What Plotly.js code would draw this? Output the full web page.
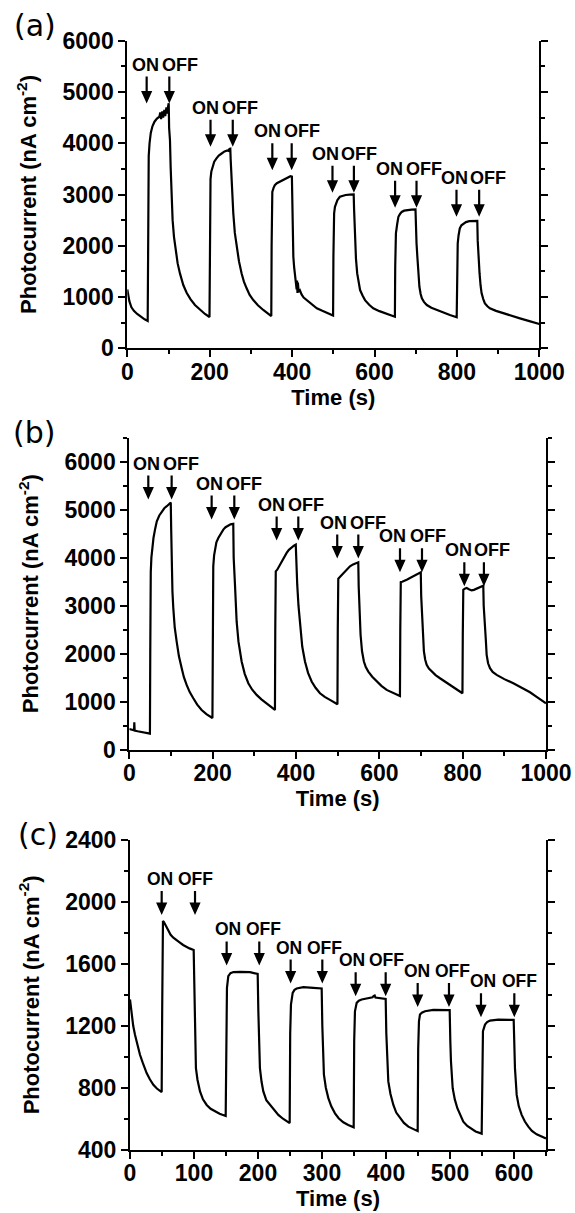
<!DOCTYPE html>
<html>
<head>
<meta charset="utf-8">
<script src="https://cdn.plot.ly/plotly-3.0.1.min.js"></script>
<style>
  html, body { margin: 0; padding: 0; background: #fff; }
  #chart { width: 575px; height: 1213px; }
</style>
</head>
<body>
<div id="chart"></div>
<script>
// ---- Panel (a): photocurrent vs time ----
const timeA = [0, 2, 5, 10, 16, 24, 33, 42, 49.5,
  50.3, 50.8, 52, 54, 57, 61, 66, 72, 78, 80, 82, 85, 87, 90, 92, 95, 97, 99, 100.5,
  101.5, 103.6, 105.2, 107.6, 110, 113.3, 117.3, 122.2, 127.8, 135.9, 144, 153.7, 164.2, 176.4, 188.5, 199.5,
  200.3, 200.8, 202, 204, 207, 211, 216, 222, 229, 236, 243, 246, 248, 250,
  250.8, 253.2, 255, 257.3, 261, 265.4, 271, 277.5, 283, 289.6, 297, 305.8, 317, 330, 340, 349.5,
  350.3, 350.8, 352, 355, 358, 363, 370, 378, 387, 393, 396, 399.5,
  400.5, 401.5, 403, 405, 407, 409, 410, 411, 412, 413, 414, 416, 419, 423, 428, 435, 445, 460, 472, 484, 499.5,
  500.3, 500.8, 502, 504, 507, 510, 516, 522, 530, 540, 549.5,
  550.5, 552, 553, 555, 558, 561, 565, 571, 577, 587, 597, 612, 630, 649.5,
  650.3, 650.8, 652, 655, 658, 662, 666, 672, 680, 690, 699.5,
  700.5, 702, 704, 706.5, 709, 712, 715, 720, 727, 738, 751, 766, 783, 799.5,
  800.3, 800.8, 802, 804, 807, 811, 816, 822, 830, 840, 849.5,
  850.5, 852, 855, 857.5, 860, 864, 868, 874, 880, 895, 913, 933, 953, 976, 1000];
const currentA = [1150, 1030, 920, 800, 730, 670, 610, 565, 535,
  2000, 3300, 3750, 4000, 4200, 4330, 4420, 4480, 4520, 4600, 4470, 4620, 4500, 4650, 4530, 4700, 4580, 4720, 4780,
  4300, 4058, 3539, 2955, 2500, 2175, 1916, 1656, 1461, 1234, 1084, 955, 844, 747, 669, 610,
  2000, 3000, 3300, 3450, 3560, 3640, 3700, 3760, 3800, 3840, 3860, 3850, 3890, 3895,
  3700, 3280, 2950, 2630, 2250, 1980, 1700, 1460, 1300, 1170, 1040, 940, 840, 747, 690, 628,
  2000, 2900, 3050, 3130, 3180, 3220, 3250, 3280, 3310, 3340, 3357, 3350,
  2800, 2200, 1786, 1580, 1460, 1350, 1300, 1150, 1320, 1080, 1280, 1100, 1130, 1050, 990, 940, 870, 780, 735, 695, 640,
  1800, 2500, 2630, 2760, 2850, 2890, 2955, 2975, 2990, 2997, 3000,
  2700, 2350, 2110, 1750, 1460, 1280, 1136, 1030, 940, 850, 780, 725, 680, 617,
  1600, 2100, 2240, 2420, 2565, 2620, 2660, 2685, 2697, 2705, 2708,
  2300, 2050, 1786, 1450, 1200, 1060, 974, 905, 844, 790, 747, 700, 650, 604,
  1500, 1900, 2045, 2200, 2338, 2400, 2435, 2462, 2480, 2486, 2487,
  2100, 1800, 1460, 1220, 1071, 960, 877, 820, 780, 730, 682, 633, 584, 530, 474];
const onA = [47, 202, 352, 498, 650, 799];
const offA = [102, 256, 399, 550, 702, 854];
const levelA = [4773, 3929, 3474, 3032, 2740, 2565];

// ---- Panel (b) ----
const timeB = [0, 5, 10, 11.5, 12, 12.8, 20, 30, 40, 49.5,
  50.3, 50.8, 51.5, 53, 55, 58, 62, 66, 72, 78, 84, 90, 95, 99.5,
  100.5, 101.6, 103.5, 105.6, 109, 113.6, 119, 125.6, 131, 137.6, 145, 153.6, 163, 173.6, 185, 199.5,
  200.3, 200.8, 201.5, 203.5, 205.6, 209, 213.6, 219, 225.6, 231, 237.6, 243, 249.5,
  250.5, 253.6, 255.5, 257.6, 262, 269.6, 277, 285.6, 295, 305.6, 317, 329.6, 340, 349.5,
  350.3, 350.8, 351.5, 355, 360, 365.6, 371, 377.6, 383, 389.6, 395, 399.5,
  400.5, 403, 406, 409.6, 415, 421.6, 429, 437.6, 447, 457.6, 469, 481.6, 490, 499.5,
  500.3, 500.8, 501.5, 507, 512, 517.6, 523, 529.6, 537, 543, 549.5,
  550.5, 552, 555, 558.5, 563, 567.5, 573.6, 583, 593.6, 605, 617.6, 633, 649.5,
  650.3, 650.8, 651.5, 655, 661.6, 667, 673.6, 681, 689.6, 695, 699.5,
  700.5, 703, 705, 707, 710, 713.6, 719, 725.6, 735, 745.6, 761, 777.6, 789, 799.5,
  800.3, 800.8, 801.5, 805, 809.6, 815, 821.6, 827, 833.6, 841, 849.5,
  850.5, 853.6, 855.5, 857.6, 861, 865.6, 872, 881.6, 900, 921.6, 941, 961.6, 981, 1000];
const currentB = [431, 420, 404, 404, 570, 400, 385, 370, 355, 335,
  2000, 3200, 3700, 4000, 4250, 4410, 4600, 4760, 4880, 4970, 5030, 5073, 5110, 5150,
  4600, 3785, 3300, 2950, 2550, 2255, 1950, 1700, 1510, 1350, 1200, 1072, 940, 828, 740, 660,
  2200, 3500, 3820, 4050, 4200, 4320, 4410, 4500, 4585, 4635, 4676, 4695, 4704,
  4000, 3438, 3000, 2672, 2250, 1837, 1580, 1385, 1250, 1141, 1050, 967, 895, 828,
  2500, 3500, 3716, 3750, 3830, 3925, 4010, 4099, 4165, 4217, 4250, 4273,
  3900, 3438, 3000, 2603, 2150, 1837, 1600, 1420, 1290, 1176, 1100, 1037, 990, 946,
  2500, 3400, 3563, 3612, 3660, 3716, 3770, 3820, 3860, 3885, 3904,
  3400, 3090, 2394, 2050, 1837, 1720, 1628, 1520, 1420, 1330, 1246, 1180, 1120,
  2500, 3300, 3493, 3500, 3521, 3548, 3577, 3610, 3646, 3675, 3695,
  3200, 2742, 2350, 2046, 1880, 1768, 1690, 1628, 1555, 1489, 1400, 1315, 1245, 1176,
  2400, 3100, 3333, 3355, 3368, 3345, 3319, 3330, 3354, 3385, 3417,
  3000, 2672, 2300, 1976, 1800, 1698, 1620, 1559, 1470, 1385, 1290, 1197, 1080, 967];
const onB = [45.6, 197.6, 353.6, 499, 649.6, 804];
const offB = [101.6, 252, 405.6, 549.6, 702.4, 851];
const levelB = [5212, 4795, 4356, 3981, 3695, 3403];

// ---- Panel (c) ----
const timeC = [0, 2.6, 5, 7.8, 11, 15.6, 20, 26, 31, 36.5, 42, 49.5,
  50.3, 50.8, 51.5, 53, 54.7, 57, 59.9, 63.5, 67.7, 72.5, 78, 83, 88.5, 93, 99.5,
  100.5, 101.5, 103, 105.5, 109.4, 114, 119.8, 126, 132.8, 140, 149.5,
  150.3, 150.8, 151.5, 153.6, 157, 161.5, 171.9, 187.5, 194, 199.5,
  200.5, 201.5, 203, 205.5, 208.3, 213, 218.75, 225, 231.8, 239, 249.5,
  250.3, 250.8, 251.5, 254.2, 257, 260.4, 270.8, 286.5, 299.5,
  300.5, 301.5, 303, 306, 309.9, 314.5, 320.3, 326, 333.3, 341, 349.5,
  350.3, 350.8, 351.5, 354.2, 357.5, 362, 372.4, 379, 380.5, 382.3, 383.5, 390, 399.5,
  400.5, 401.5, 403.6, 407, 411.5, 416, 421.9, 428, 434.9, 441, 449.5,
  450.3, 450.8, 451.5, 453.1, 456, 460.9, 473.9, 497.4, 499.5,
  500.5, 501.5, 504.2, 507.5, 511.5, 516, 520.8, 527, 533.9, 540, 549.5,
  550.3, 550.8, 551.5, 554.7, 558, 562.5, 575.5, 599.5,
  600.5, 601.5, 604.2, 607.5, 612, 617, 622.4, 628, 635.4, 642, 650];
const currentC = [1370, 1273, 1200, 1143, 1080, 1013, 960, 895, 855, 819, 795, 772,
  1300, 1700, 1877, 1870, 1856, 1835, 1812, 1788, 1769, 1752, 1737, 1722, 1709, 1700, 1690,
  1400, 1143, 927, 850, 776, 725, 689, 664, 646, 632, 618,
  1200, 1380, 1445, 1521, 1540, 1547, 1549, 1547, 1542, 1535,
  1300, 1100, 927, 840, 776, 720, 689, 655, 625, 600, 572,
  1150, 1290, 1337, 1413, 1432, 1441, 1450, 1445, 1441,
  1200, 1057, 884, 800, 733, 680, 635, 603, 577, 560, 545,
  1100, 1240, 1294, 1348, 1362, 1370, 1380, 1384, 1392, 1396, 1383, 1378, 1374,
  1150, 1013, 841, 760, 689, 640, 603, 573, 549, 535, 520,
  1050, 1190, 1229, 1273, 1285, 1294, 1303, 1301, 1301,
  1100, 970, 797, 725, 668, 620, 581, 553, 532, 518, 504,
  1000, 1120, 1165, 1208, 1224, 1234, 1240, 1238,
  1050, 927, 754, 680, 625, 582, 549, 521, 499, 485, 473];
const onC = [49.5, 151, 251, 352.6, 449.5, 548.4];
const offC = [101.6, 202, 300.5, 399.5, 498.4, 600.5];
const levelC = [1916, 1590, 1473, 1391, 1322, 1255];

const panelLabels = ['(a)', '(b)', '(c)'];
const xTitle = 'Time (s)';
const yTitle = 'Photocurrent (nA cm<sup>-2</sup>)';

// ---- styling ----
const W = 575, H = 1213;
const sans = 'Liberation Sans, Arial, sans-serif';
const tickFont = {family: sans, size: 23, color: '#000', weight: 'bold'};
const titleFont = {family: sans, size: 22, color: '#000', weight: 'bold'};

// plot boxes in pixels: [left, right, top, bottom]
const boxes = [
  [127.3, 539.3, 40.7, 348.3],
  [129.3, 546, 437.7, 749.7],
  [130, 546, 840, 1149.7]
];
const xRanges = [[0, 1000], [0, 1000], [0, 650]];
const yRanges = [[0, 6000], [0, 6500], [400, 2400]];
const xSteps = [[200, 100], [200, 100], [100, 50]];
const ySteps = [[1000, 500], [1000, 500], [400, 200]];
const arrowLen = [27, 24, 24];
const onoffSize = [18, 18, 17.5];
// horizontal nudge (px) of the ON / OFF words relative to their arrows
const onShift = [[-1, -5, -5, -7, -6, -2], [-2, -2, -5, -4, -7, -6], [-2, 1, -2, -4, -1, 2]];
const offShift = [[11, 7, 10, 5, 7, 9], [9, 10, 8, 10, 6, 8], [0, 4, 2, 1, 4, 5]];
const labelPos = [[12, 25], [11, 432], [16, 834]];

const series = [[timeA, currentA], [timeB, currentB], [timeC, currentC]];
const marks = [[onA, offA, levelA], [onB, offB, levelB], [onC, offC, levelC]];

// downward arrow (shaft + filled head) in pixels, tip at the anchor point
function arrowPath(len) {
  const head = 12.5, half = 5.6, shaft = 1.1;
  return `M${-shaft},${len} L${shaft},${len} L${shaft},${head} L${half},${head} L0,0 L${-half},${head} L${-shaft},${head} Z`;
}

const traces = [];
const layout = {
  width: W, height: H,
  margin: {l: 0, r: 0, t: 0, b: 0},
  paper_bgcolor: '#fff', plot_bgcolor: '#fff',
  showlegend: false,
  annotations: [],
  shapes: []
};

function px2x(p) { return p / W; }
function px2y(p) { return 1 - p / H; }

for (let i = 0; i < 3; i++) {
  const n = i + 1;
  const sx = n === 1 ? '' : String(n);
  const xd = [px2x(boxes[i][0]), px2x(boxes[i][1])];
  const yd = [px2y(boxes[i][3]), px2y(boxes[i][2])];
  const topId = 3 + n;   // overlay axis id for the top border

  traces.push({
    x: series[i][0], y: series[i][1],
    xaxis: 'x' + sx, yaxis: 'y' + sx,
    type: 'scatter', mode: 'lines',
    line: {color: '#000', width: 2.2},
    hoverinfo: 'skip'
  });

  layout['xaxis' + sx] = {
    domain: xd, anchor: 'y' + sx, range: xRanges[i],
    tickmode: 'linear', tick0: 0, dtick: xSteps[i][0],
    ticks: 'outside', ticklen: 7, tickwidth: 2, tickcolor: '#000',
    minor: {dtick: xSteps[i][1], ticks: 'outside', ticklen: 4, tickwidth: 2, tickcolor: '#000', showgrid: false},
    showline: true, linewidth: 2, linecolor: '#000', mirror: false,
    showgrid: false, zeroline: false,
    tickfont: tickFont, ticklabelstandoff: -5,
    title: {text: xTitle, font: titleFont, standoff: 0}
  };
  layout['yaxis' + sx] = {
    domain: yd, anchor: 'x' + sx, range: yRanges[i],
    tickmode: 'linear', tick0: 0, dtick: ySteps[i][0],
    ticks: 'outside', ticklen: 7, tickwidth: 2, tickcolor: '#000',
    minor: {dtick: ySteps[i][1], ticks: 'outside', ticklen: 4, tickwidth: 2, tickcolor: '#000', showgrid: false},
    showline: true, linewidth: 2, linecolor: '#000', mirror: 'allticks',
    showgrid: false, zeroline: false,
    tickfont: tickFont, ticklabelstandoff: 0,
    title: {text: yTitle, font: titleFont, standoff: 20}
  };
  // top border carries short inward ticks
  layout['xaxis' + topId] = {
    overlaying: 'x' + sx, anchor: 'y' + sx, side: 'top', range: xRanges[i],
    tickmode: 'linear', tick0: 0, dtick: xSteps[i][1],
    ticks: 'inside', ticklen: 5, tickwidth: 2, tickcolor: '#000',
    showticklabels: false, showline: true, linewidth: 2, linecolor: '#000',
    showgrid: false, zeroline: false
  };

  // ON / OFF markers: arrow shape plus label above it
  const [ons, offs, lv] = marks[i];
  for (let k = 0; k < ons.length; k++) {
    [[ons[k], 'ON', onShift[i][k]], [offs[k], 'OFF', offShift[i][k]]].forEach(([t, label, shift]) => {
      layout.shapes.push({
        type: 'path', xref: 'x' + sx, yref: 'y' + sx,
        xsizemode: 'pixel', ysizemode: 'pixel', xanchor: t, yanchor: lv[k],
        path: arrowPath(arrowLen[i]),
        fillcolor: '#000', line: {width: 0}
      });
      layout.annotations.push({
        xref: 'x' + sx, yref: 'y' + sx, x: t, y: lv[k],
        text: label, showarrow: false,
        font: {family: sans, size: onoffSize[i], color: '#000', weight: 'bold'},
        xanchor: 'center', yanchor: 'bottom', xshift: shift, yshift: arrowLen[i] + 1,
        borderpad: 0
      });
    });
  }

  layout.annotations.push({
    xref: 'paper', yref: 'paper',
    x: px2x(labelPos[i][0]), y: px2y(labelPos[i][1]),
    xanchor: 'left', yanchor: 'middle', showarrow: false,
    text: panelLabels[i],
    font: {family: 'DejaVu Sans, sans-serif', size: 30, color: '#000'}
  });
}

Plotly.newPlot('chart', traces, layout, {staticPlot: true, displayModeBar: false});
</script>
</body>
</html>
